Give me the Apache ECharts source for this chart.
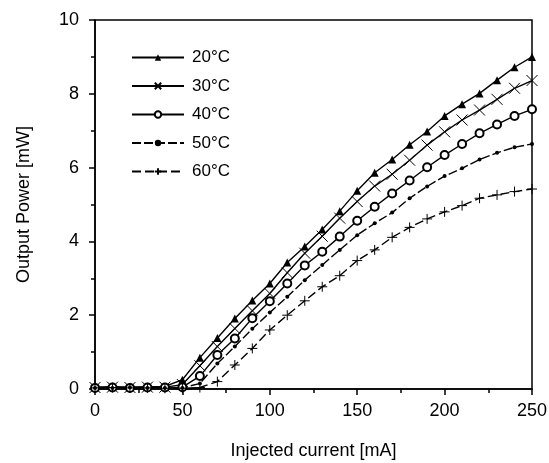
<!DOCTYPE html>
<html>
<head>
<meta charset="utf-8">
<script src="https://cdn.jsdelivr.net/npm/echarts@6/dist/echarts.min.js"></script>
<style>
  html, body { margin: 0; padding: 0; background: #fff; }
  #chart { width: 549px; height: 463px; }
</style>
</head>
<body>
<div id="chart"></div>
<script>
// injected current [mA]
const current = [0, 10, 20, 30, 40, 50, 60, 70, 80, 90, 100, 110, 120, 130, 140, 150, 160, 170, 180, 190, 200, 210, 220, 230, 240, 250];

// output power [mW] per temperature
const p20 = [0.05, 0.06, 0.05, 0.06, 0.07, 0.25, 0.85, 1.38, 1.91, 2.40, 2.86, 3.43, 3.86, 4.32, 4.82, 5.37, 5.86, 6.22, 6.62, 6.98, 7.40, 7.72, 8.01, 8.37, 8.72, 9.00];
const p30 = [0.04, 0.05, 0.04, 0.05, 0.05, 0.12, 0.63, 1.15, 1.64, 2.12, 2.59, 3.15, 3.68, 4.14, 4.63, 5.08, 5.50, 5.82, 6.20, 6.61, 6.97, 7.29, 7.56, 7.85, 8.15, 8.36];
const p40 = [0.03, 0.04, 0.03, 0.04, 0.04, 0.05, 0.35, 0.92, 1.37, 1.92, 2.38, 2.86, 3.35, 3.72, 4.13, 4.56, 4.94, 5.30, 5.65, 6.01, 6.34, 6.64, 6.93, 7.17, 7.40, 7.58];
const p50 = [0.03, 0.03, 0.04, 0.03, 0.03, 0.03, 0.15, 0.69, 1.15, 1.63, 2.07, 2.50, 2.95, 3.36, 3.77, 4.17, 4.49, 4.78, 5.17, 5.49, 5.77, 5.98, 6.22, 6.40, 6.55, 6.64];
const p60 = [0.03, 0.04, 0.03, 0.03, 0.02, 0.02, 0.04, 0.20, 0.65, 1.10, 1.60, 2.00, 2.39, 2.77, 3.07, 3.48, 3.77, 4.11, 4.38, 4.61, 4.80, 4.97, 5.17, 5.26, 5.35, 5.42];

const names = ['20°C', '30°C', '40°C', '50°C', '60°C'];

const font = 'Liberation Sans, Arial, sans-serif';

const chart = echarts.init(document.getElementById('chart'));

const pairs = (ys) => current.map((x, i) => [x, ys[i]]);

// common line series settings
const mk = (name, ys, symbol, size, dash, extraItem) => ({
  name: name,
  type: 'line',
  data: pairs(ys),
  symbol: symbol,
  symbolSize: size,
  showAllSymbol: true,
  color: '#000',
  lineStyle: { color: '#000', width: 1.4, type: dash },
  itemStyle: Object.assign({ color: '#000' }, extraItem || {}),
  z: 3
});

const option = {
  animation: false,
  backgroundColor: '#fff',
  grid: {
    left: 95,
    right: 17,
    top: 20,
    bottom: 74,
    outerBoundsMode: 'none',
    show: true,
    borderColor: '#000',
    borderWidth: 1.5
  },
  legend: {
    orient: 'vertical',
    left: 126,
    top: 44,
    itemWidth: 52,
    itemHeight: 8,
    itemGap: 11.5,
    data: names,
    textStyle: { fontFamily: font, fontSize: 17, color: '#000', padding: [0, 0, 0, 3] }
  },
  xAxis: {
    type: 'value',
    min: 0,
    max: 250,
    interval: 50,
    name: 'Injected current [mA]',
    nameLocation: 'middle',
    nameGap: 53,
    nameTextStyle: { fontFamily: font, fontSize: 18, color: '#000' },
    axisLine: { lineStyle: { color: '#000', width: 1.5 } },
    axisTick: { inside: false, length: 6, lineStyle: { color: '#000', width: 1.5 } },
    minorTick: { show: true, splitNumber: 2, length: 4, lineStyle: { color: '#000', width: 1.5 } },
    splitLine: { show: false },
    axisLabel: { fontFamily: font, fontSize: 18, color: '#000', margin: 13 }
  },
  yAxis: {
    type: 'value',
    min: 0,
    max: 10,
    interval: 2,
    name: 'Output Power [mW]',
    nameLocation: 'middle',
    nameGap: 62,
    nameTextStyle: { fontFamily: font, fontSize: 18, color: '#000' },
    axisLine: { lineStyle: { color: '#000', width: 1.5 } },
    axisTick: { inside: false, length: 6, lineStyle: { color: '#000', width: 1.5 } },
    minorTick: { show: true, splitNumber: 2, length: 4, lineStyle: { color: '#000', width: 1.5 } },
    splitLine: { show: false },
    axisLabel: { fontFamily: font, fontSize: 18, color: '#000', margin: 16 }
  },
  series: [
    mk(names[0], p20, 'triangle', 8, 'solid'),
    mk(names[1], p30, 'path://M0,0L10,10M0,10L10,0', 11, 'solid', { borderColor: '#000', borderWidth: 1 }),
    mk(names[2], p40, 'emptyCircle', 8, 'solid', { borderColor: '#000', borderWidth: 1 }),
    mk(names[3], p50, 'circle', 4, [9, 3]),
    mk(names[4], p60, 'path://M5,0L5,10M0,5L10,5', 10, [9, 4], { borderColor: '#000', borderWidth: 1 })
  ]
};

chart.setOption(option);

window.addEventListener('resize', () => chart.resize());
</script>
</body>
</html>
